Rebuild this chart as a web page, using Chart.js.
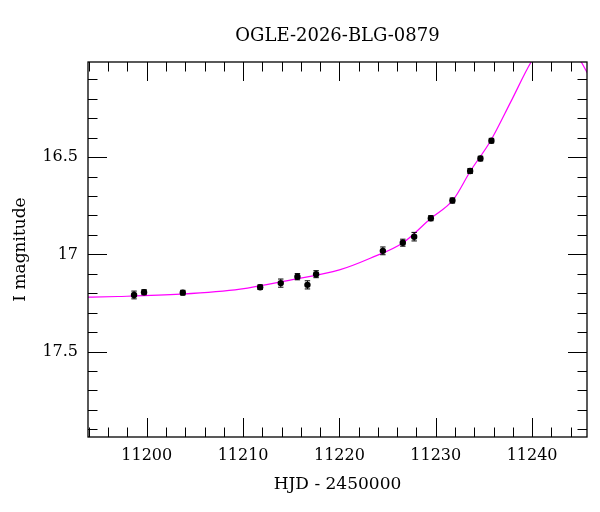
<!DOCTYPE html>
<html>
<head>
<meta charset="utf-8">
<script src="https://cdn.jsdelivr.net/npm/chart.js@4"></script>
<style>
  body { margin: 0; background: #fff; }
</style>
</head>
<body>
<canvas id="lc" width="600" height="512"></canvas>
<script>
// Photometry (OGLE I band)
const obsHjd = [11198.68, 11199.72, 11203.74, 11211.77, 11213.91, 11215.64, 11216.68, 11217.58,
                11224.51, 11226.58, 11227.76, 11229.49, 11231.73, 11233.57, 11234.64, 11235.78];
const obsMag = [17.209, 17.195, 17.197, 17.169, 17.148, 17.115, 17.157, 17.102,
                16.982, 16.940, 16.909, 16.814, 16.723, 16.571, 16.507, 16.415];
const obsErr = [0.020, 0.013, 0.012, 0.012, 0.021, 0.016, 0.021, 0.018,
                0.020, 0.018, 0.022, 0.013, 0.013, 0.013, 0.012, 0.012];

// Model curve
const modelHjd = [11193.0, 11197.0, 11203.5, 11209.7, 11215.0, 11220.0, 11223.2, 11226.6, 11229.5,
                  11231.8, 11233.6, 11235.7, 11237.8, 11239.9, 11241.2, 11242.5, 11243.8, 11245.1,
                  11245.75, 11247.0];
const modelMag = [17.221, 17.217, 17.205, 17.179, 17.131, 17.080, 17.020, 16.940, 16.814,
                  16.720, 16.571, 16.415, 16.214, 16.010, 15.920, 15.880, 15.920, 16.010,
                  16.068, 16.180];

const xTickValues = [11200, 11210, 11220, 11230, 11240];
const yTickValues = [16.5, 17, 17.5];
const xMinorStep = 2;
const yMinorStep = 0.1;

const serif = 'DejaVu Serif';
Chart.defaults.font.family = serif;
Chart.defaults.color = '#000';

// Error bars
const errorBars = {
    id: 'errorBars',
    afterDatasetsDraw(chart) {
        const {ctx, chartArea, scales: {x, y}} = chart;
        ctx.save();
        ctx.beginPath();
        ctx.rect(chartArea.left, chartArea.top, chartArea.width, chartArea.height);
        ctx.clip();
        ctx.strokeStyle = '#000';
        ctx.lineWidth = 1;
        for (let i = 0; i < obsHjd.length; i++) {
            const px = x.getPixelForValue(obsHjd[i]);
            const y1 = y.getPixelForValue(obsMag[i] - obsErr[i]);
            const y2 = y.getPixelForValue(obsMag[i] + obsErr[i]);
            ctx.beginPath();
            ctx.moveTo(px, y1); ctx.lineTo(px, y2);
            ctx.moveTo(px - 2.7, y1); ctx.lineTo(px + 2.7, y1);
            ctx.moveTo(px - 2.7, y2); ctx.lineTo(px + 2.7, y2);
            ctx.stroke();
        }
        ctx.restore();
    }
};

// Box with inward ticks on all four sides
const frame = {
    id: 'frame',
    afterDraw(chart) {
        const {ctx, chartArea: a, scales: {x, y}} = chart;
        const major = 19, minor = 9.5;
        ctx.save();
        ctx.strokeStyle = '#000';
        ctx.lineWidth = 1;
        ctx.beginPath();
        for (let k = Math.ceil(x.min / xMinorStep); k * xMinorStep <= x.max; k++) {
            const v = k * xMinorStep;
            const len = v % 10 === 0 ? major : minor;
            const px = Math.round(x.getPixelForValue(v)) + 0.5;
            ctx.moveTo(px, a.bottom); ctx.lineTo(px, a.bottom - len);
            ctx.moveTo(px, a.top); ctx.lineTo(px, a.top + len);
        }
        const lo = Math.min(y.min, y.max), hi = Math.max(y.min, y.max);
        for (let k = Math.ceil(lo / yMinorStep - 1e-6); k * yMinorStep <= hi + 1e-9; k++) {
            const len = k % 5 === 0 ? major : minor;
            const py = Math.round(y.getPixelForValue(k * yMinorStep)) + 0.5;
            ctx.moveTo(a.left, py); ctx.lineTo(a.left + len, py);
            ctx.moveTo(a.right, py); ctx.lineTo(a.right - len, py);
        }
        ctx.stroke();
        ctx.lineWidth = 1.3;
        ctx.strokeRect(a.left, a.top, a.width, a.height);
        ctx.restore();
    }
};

new Chart(document.getElementById('lc'), {
    type: 'line',
    data: {
        datasets: [{
            label: 'OGLE I',
            data: obsHjd.map((t, i) => ({x: t, y: obsMag[i]})),
            showLine: false,
            pointRadius: 3.2,
            pointBackgroundColor: '#000',
            pointBorderColor: '#000',
            pointBorderWidth: 0
        }, {
            label: 'model',
            data: modelHjd.map((t, i) => ({x: t, y: modelMag[i]})),
            borderColor: '#ff00ff',
            borderWidth: 1.2,
            pointRadius: 0,
            cubicInterpolationMode: 'monotone',
            fill: false
        }]
    },
    options: {
        responsive: false,
        animation: false,
        layout: { padding: { left: 0, right: 13, top: 0, bottom: 0 } },
        scales: {
            x: {
                type: 'linear',
                min: 11193.9,
                max: 11245.7,
                grid: { display: false, drawTicks: false },
                border: { display: false },
                afterBuildTicks: s => { s.ticks = xTickValues.map(v => ({value: v})); },
                afterFit: s => { s.height = 75; },
                ticks: {
                    padding: 9.5,
                    color: '#000',
                    font: { family: serif, size: 16 },
                    maxRotation: 0,
                    autoSkip: false,
                    callback: v => String(v)
                },
                title: {
                    display: true,
                    text: 'HJD - 2450000',
                    color: '#000',
                    font: { family: serif, size: 17 },
                    padding: { top: 0, bottom: 17.5 }
                }
            },
            y: {
                type: 'linear',
                reverse: true,
                min: 16.01,
                max: 17.94,
                grid: { display: false, drawTicks: false },
                border: { display: false },
                afterBuildTicks: s => { s.ticks = yTickValues.map(v => ({value: v})); },
                afterFit: s => { s.width = 88; },
                ticks: {
                    padding: 10,
                    color: '#000',
                    font: { family: serif, size: 16 },
                    callback: v => String(v)
                },
                title: {
                    display: true,
                    text: 'I magnitude',
                    color: '#000',
                    font: { family: serif, size: 17 },
                    padding: { top: 10, bottom: 0 }
                }
            }
        },
        plugins: {
            legend: { display: false },
            tooltip: { enabled: false },
            title: {
                display: true,
                text: 'OGLE-2026-BLG-0879',
                fullSize: false,
                color: '#000',
                font: { family: serif, size: 18, weight: 'normal' },
                padding: { top: 26, bottom: 14.4 }
            }
        }
    },
    plugins: [errorBars, frame]
});
</script>
</body>
</html>
